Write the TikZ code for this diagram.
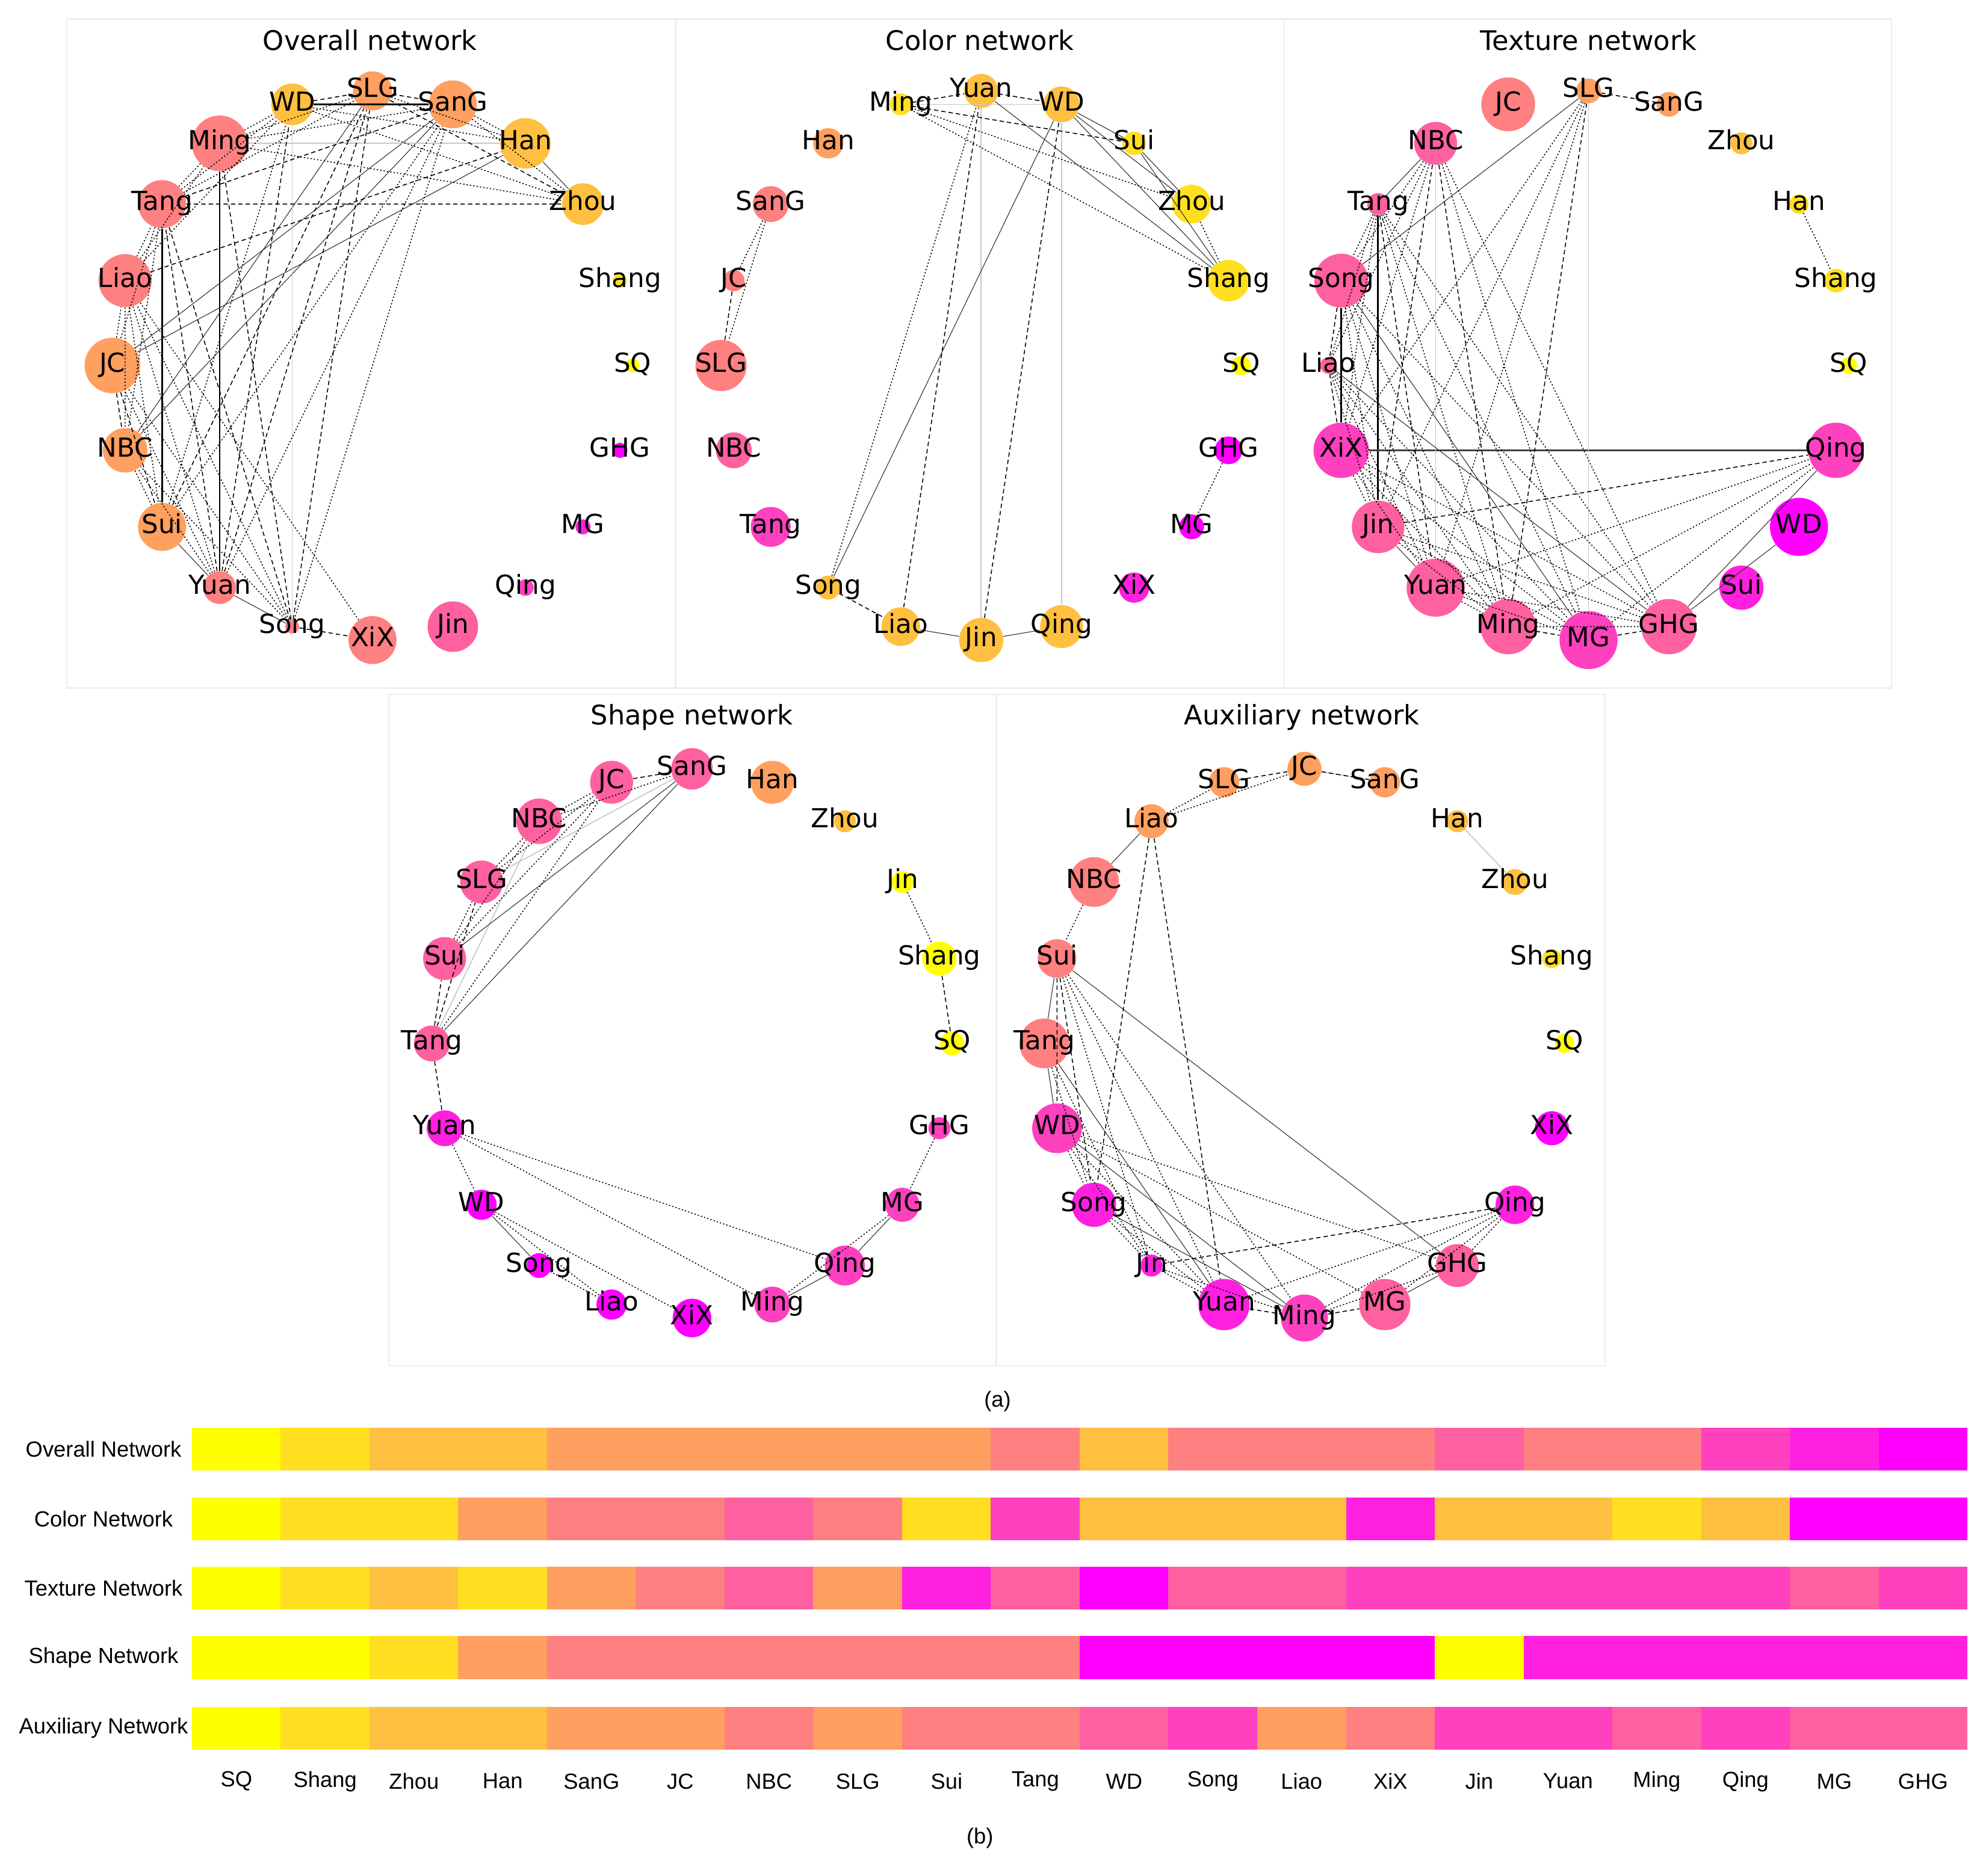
\documentclass[tikz,border=0pt]{standalone}
\usepackage{fontspec}
\newfontfamily\dvsans{DejaVu Sans}
\newfontfamily\lsans{Liberation Sans}

% spring colour levels, from yellow to magenta
\definecolor{sp100}{RGB}{255,255,0}
\definecolor{sp88}{RGB}{255,223,32}
\definecolor{sp75}{RGB}{255,191,64}
\definecolor{sp62}{RGB}{255,159,96}
\definecolor{sp50}{RGB}{255,128,128}
\definecolor{sp38}{RGB}{255,96,159}
\definecolor{sp25}{RGB}{255,64,191}
\definecolor{sp12}{RGB}{255,32,223}
\definecolor{sp0}{RGB}{255,0,255}
\definecolor{frmcol}{RGB}{234,239,244}

\tikzset{
  nd/.style 2 args={circle,inner sep=0pt,draw=none,fill=#1,minimum size=#2*1.5pt},
  lb/.style={inner sep=0pt,font=\dvsans\fontsize{15.6}{18}\selectfont,text height=11.2pt,text depth=3.6pt},
  ttl/.style={inner sep=0pt,font=\dvsans\fontsize{16}{19}\selectfont},
  bl/.style={inner sep=0pt,font=\lsans\fontsize{13}{15}\selectfont},
  frm/.style={draw=frmcol,line width=0.8pt},
  edot/.style={line width=0.55pt,dash pattern=on 0.8pt off 1.2pt},
  edash/.style={line width=0.55pt,dash pattern=on 2.6pt off 1.8pt},
  eline/.style={line width=0.4pt,black!80},
  ebold/.style={line width=1pt},
  egray/.style={line width=0.6pt,black!22},
}

\begin{document}
\begin{tikzpicture}[x=0.75pt,y=0.75pt,yscale=-1,xscale=1]
\useasboundingbox (0,0) rectangle (1568,1486);

% Panel frames
\draw[frm] (53,15) rectangle (535,545);
\draw[frm] (535,15) rectangle (1017,545);
\draw[frm] (1017,15) rectangle (1498,545);
\draw[frm] (308,550) rectangle (789,1082);
\draw[frm] (789,550) rectangle (1271,1082);

% Titles
\node[ttl] (o-title) at (293,32) {Overall network};
\node[ttl] (c-title) at (776,32) {Color network};
\node[ttl] (t-title) at (1258,32) {Texture network};
\node[ttl] (s-title) at (548,568) {Shape network};
\node[ttl] (a-title) at (1031,568) {Auxiliary network};

%%%%%%%% Overall network
\begin{scope}[shift={(295,289.5)}]
\node[nd={sp62}{15.5}] (o-SLG) at (-90:206 and 217.5) {};
\node[nd={sp62}{19}] (o-SanG) at (-72:206 and 217.5) {};
\node[nd={sp75}{20}] (o-Han) at (-54:206 and 217.5) {};
\node[nd={sp75}{16.5}] (o-Zhou) at (-36:206 and 217.5) {};
\node[nd={sp88}{5.5}] (o-Shang) at (-18:206 and 217.5) {};
\node[nd={sp100}{5.5}] (o-SQ) at (0:206 and 217.5) {};
\node[nd={sp0}{6}] (o-GHG) at (18:206 and 217.5) {};
\node[nd={sp12}{6}] (o-MG) at (36:206 and 217.5) {};
\node[nd={sp25}{6.6}] (o-Qing) at (54:206 and 217.5) {};
\node[nd={sp38}{20}] (o-Jin) at (72:206 and 217.5) {};
\node[nd={sp50}{19}] (o-XiX) at (90:206 and 217.5) {};
\node[nd={sp50}{5.5}] (o-Song) at (108:206 and 217.5) {};
\node[nd={sp50}{13}] (o-Yuan) at (126:206 and 217.5) {};
\node[nd={sp62}{19}] (o-Sui) at (144:206 and 217.5) {};
\node[nd={sp62}{17.6}] (o-NBC) at (162:206 and 217.5) {};
\node[nd={sp62}{22}] (o-JC) at (180:206 and 217.5) {};
\node[nd={sp50}{21}] (o-Liao) at (198:206 and 217.5) {};
\node[nd={sp50}{19}] (o-Tang) at (216:206 and 217.5) {};
\node[nd={sp50}{22}] (o-Ming) at (234:206 and 217.5) {};
\node[nd={sp75}{16.5}] (o-WD) at (252:206 and 217.5) {};
\end{scope}

\draw[ebold] (o-Ming) -- (o-Yuan) (o-Tang) -- (o-Sui) (o-WD) -- (o-SanG);
\draw[eline] (o-Han) -- (o-Zhou) (o-JC) -- (o-SanG) (o-NBC) -- (o-SLG) (o-NBC) -- (o-SanG)
  (o-Sui) -- (o-Yuan) (o-Song) -- (o-Yuan) (o-JC) -- (o-Han);
\draw[egray] (o-Ming) -- (o-Han) (o-WD) -- (o-Song);
\draw[edash] (o-WD) -- (o-SLG) (o-SLG) -- (o-SanG) (o-SLG) -- (o-Zhou) (o-Tang) -- (o-Zhou)
  (o-Liao) -- (o-Han) (o-JC) -- (o-NBC) (o-Yuan) -- (o-SLG) (o-Yuan) -- (o-WD)
  (o-Song) -- (o-SLG) (o-Song) -- (o-Ming) (o-Song) -- (o-XiX) (o-Tang) -- (o-SanG)
  (o-Sui) -- (o-SLG) (o-Tang) -- (o-Song) (o-JC) -- (o-Sui) (o-Yuan) -- (o-Tang);
\draw[edot] (o-SLG) -- (o-Han) (o-SanG) -- (o-Han) (o-SanG) -- (o-Zhou) (o-WD) -- (o-Zhou)
  (o-WD) -- (o-Han) (o-Ming) -- (o-WD) (o-Ming) -- (o-SLG) (o-Ming) -- (o-SanG)
  (o-Ming) -- (o-Zhou) (o-Tang) -- (o-WD) (o-Tang) -- (o-SLG) (o-Tang) -- (o-Ming)
  (o-Liao) -- (o-Tang) (o-Liao) -- (o-Ming) (o-Liao) -- (o-WD) (o-Liao) -- (o-NBC)
  (o-Liao) -- (o-Sui) (o-JC) -- (o-Liao) (o-Tang) -- (o-NBC) (o-Tang) -- (o-JC)
  (o-Sui) -- (o-SanG) (o-Sui) -- (o-WD) (o-NBC) -- (o-Sui) (o-Yuan) -- (o-Liao)
  (o-Yuan) -- (o-NBC) (o-Song) -- (o-Liao) (o-Song) -- (o-NBC) (o-XiX) -- (o-Liao)
  (o-Song) -- (o-SanG) (o-Yuan) -- (o-SanG) (o-Yuan) -- (o-JC) (o-Song) -- (o-JC);

%%%%%%%% Color network
\begin{scope}[shift={(777,289.5)}]
\node[nd={sp75}{13.5}] (c-Yuan) at (-90:206 and 217.5) {};
\node[nd={sp75}{14.2}] (c-WD) at (-72:206 and 217.5) {};
\node[nd={sp88}{9.3}] (c-Sui) at (-54:206 and 217.5) {};
\node[nd={sp88}{15.3}] (c-Zhou) at (-36:206 and 217.5) {};
\node[nd={sp88}{16.4}] (c-Shang) at (-18:206 and 217.5) {};
\node[nd={sp100}{7.6}] (c-SQ) at (0:206 and 217.5) {};
\node[nd={sp0}{11}] (c-GHG) at (18:206 and 217.5) {};
\node[nd={sp0}{9.8}] (c-MG) at (36:206 and 217.5) {};
\node[nd={sp12}{12}] (c-XiX) at (54:206 and 217.5) {};
\node[nd={sp75}{17}] (c-Qing) at (72:206 and 217.5) {};
\node[nd={sp75}{17.5}] (c-Jin) at (90:206 and 217.5) {};
\node[nd={sp75}{15.3}] (c-Liao) at (108:206 and 217.5) {};
\node[nd={sp75}{9.5}] (c-Song) at (126:206 and 217.5) {};
\node[nd={sp25}{15.8}] (c-Tang) at (144:206 and 217.5) {};
\node[nd={sp38}{14.2}] (c-NBC) at (162:206 and 217.5) {};
\node[nd={sp50}{20.3}] (c-SLG) at (180:206 and 217.5) {};
\node[nd={sp50}{8.5}] (c-JC) at (198:206 and 217.5) {};
\node[nd={sp50}{14.2}] (c-SanG) at (216:206 and 217.5) {};
\node[nd={sp62}{12}] (c-Han) at (234:206 and 217.5) {};
\node[nd={sp88}{8.7}] (c-Ming) at (252:206 and 217.5) {};
\end{scope}

\draw[egray] (c-Ming) -- (c-WD) (c-Jin) -- (c-Yuan) (c-Qing) -- (c-WD);
\draw[eline] (c-WD) -- (c-Sui) (c-WD) -- (c-Zhou) (c-WD) -- (c-Shang) (c-Sui) -- (c-Zhou)
  (c-Sui) -- (c-Shang) (c-Yuan) -- (c-Shang) (c-Song) -- (c-WD) (c-Jin) -- (c-Qing)
  (c-Liao) -- (c-Jin);
\draw[edash] (c-Ming) -- (c-Yuan) (c-Yuan) -- (c-WD) (c-Ming) -- (c-Sui) (c-Liao) -- (c-Yuan)
  (c-Jin) -- (c-WD) (c-Song) -- (c-Liao) (c-SLG) -- (c-JC);
\draw[edot] (c-Ming) -- (c-Zhou) (c-Ming) -- (c-Shang) (c-Zhou) -- (c-Shang) (c-SanG) -- (c-JC)
  (c-SanG) -- (c-SLG) (c-Song) -- (c-Yuan) (c-GHG) -- (c-MG);

%%%%%%%% Texture network
\begin{scope}[shift={(1258,289.5)}]
\node[nd={sp62}{9.8}] (t-SLG) at (-90:206 and 217.5) {};
\node[nd={sp62}{9.8}] (t-SanG) at (-72:206 and 217.5) {};
\node[nd={sp75}{8.7}] (t-Zhou) at (-54:206 and 217.5) {};
\node[nd={sp88}{7.6}] (t-Han) at (-36:206 and 217.5) {};
\node[nd={sp88}{9.3}] (t-Shang) at (-18:206 and 217.5) {};
\node[nd={sp100}{6.6}] (t-SQ) at (0:206 and 217.5) {};
\node[nd={sp25}{21.9}] (t-Qing) at (18:206 and 217.5) {};
\node[nd={sp0}{23}] (t-WD) at (36:206 and 217.5) {};
\node[nd={sp12}{17.5}] (t-Sui) at (54:206 and 217.5) {};
\node[nd={sp38}{21.9}] (t-GHG) at (72:206 and 217.5) {};
\node[nd={sp25}{23}] (t-MG) at (90:206 and 217.5) {};
\node[nd={sp38}{21.9}] (t-Ming) at (108:206 and 217.5) {};
\node[nd={sp38}{23}] (t-Yuan) at (126:206 and 217.5) {};
\node[nd={sp38}{20.8}] (t-Jin) at (144:206 and 217.5) {};
\node[nd={sp25}{21.9}] (t-XiX) at (162:206 and 217.5) {};
\node[nd={sp38}{6.6}] (t-Liao) at (180:206 and 217.5) {};
\node[nd={sp38}{21.3}] (t-Song) at (198:206 and 217.5) {};
\node[nd={sp38}{8.7}] (t-Tang) at (216:206 and 217.5) {};
\node[nd={sp38}{17}] (t-NBC) at (234:206 and 217.5) {};
\node[nd={sp50}{21.3}] (t-JC) at (252:206 and 217.5) {};
\end{scope}

\draw[ebold] (t-Tang) -- (t-Jin) (t-Song) -- (t-XiX);
\draw[line width=0.8pt,black!75] (t-XiX) -- (t-Qing);
\draw[egray] (t-SLG) -- (t-MG) (t-NBC) -- (t-Yuan);
\draw[eline] (t-SLG) -- (t-Song) (t-NBC) -- (t-Tang) (t-Song) -- (t-MG)
  (t-Liao) -- (t-GHG) (t-Jin) -- (t-Yuan) (t-GHG) -- (t-Qing) (t-GHG) -- (t-WD);
\draw[edash] (t-SLG) -- (t-SanG) (t-SLG) -- (t-Ming) (t-NBC) -- (t-Jin) (t-NBC) -- (t-Ming)
  (t-Tang) -- (t-Yuan) (t-Song) -- (t-Liao) (t-Liao) -- (t-XiX) (t-Jin) -- (t-Qing)
  (t-Ming) -- (t-MG) (t-MG) -- (t-GHG);
\draw[edot] (t-Han) -- (t-Shang) (t-SLG) -- (t-XiX) (t-SLG) -- (t-Jin) (t-SLG) -- (t-Yuan)
  (t-NBC) -- (t-Song) (t-NBC) -- (t-Liao) (t-NBC) -- (t-XiX) (t-NBC) -- (t-MG)
  (t-NBC) -- (t-GHG) (t-Tang) -- (t-Song) (t-Tang) -- (t-Liao) (t-Tang) -- (t-XiX)
  (t-Tang) -- (t-Ming) (t-Tang) -- (t-MG) (t-Tang) -- (t-GHG) (t-Song) -- (t-Jin)
  (t-Song) -- (t-Yuan) (t-Song) -- (t-Ming) (t-Song) -- (t-GHG) (t-Liao) -- (t-Jin)
  (t-Liao) -- (t-Yuan) (t-Liao) -- (t-Ming) (t-Liao) -- (t-MG) (t-XiX) -- (t-Jin)
  (t-XiX) -- (t-Yuan) (t-XiX) -- (t-Ming) (t-XiX) -- (t-MG) (t-XiX) -- (t-GHG)
  (t-Jin) -- (t-Ming) (t-Jin) -- (t-MG) (t-Jin) -- (t-GHG) (t-Yuan) -- (t-Ming)
  (t-Yuan) -- (t-MG) (t-Yuan) -- (t-GHG) (t-Yuan) -- (t-Qing) (t-Ming) -- (t-GHG)
  (t-Ming) -- (t-Qing) (t-MG) -- (t-Qing);

%%%%%%%% Shape network
\begin{scope}[shift={(548,826.5)}]
\node[nd={sp38}{16.4}] (s-SanG) at (-90:206 and 217.5) {};
\node[nd={sp62}{17}] (s-Han) at (-72:206 and 217.5) {};
\node[nd={sp75}{8.7}] (s-Zhou) at (-54:206 and 217.5) {};
\node[nd={sp100}{8.7}] (s-Jin) at (-36:206 and 217.5) {};
\node[nd={sp100}{13.5}] (s-Shang) at (-18:206 and 217.5) {};
\node[nd={sp100}{9.5}] (s-SQ) at (0:206 and 217.5) {};
\node[nd={sp25}{8.7}] (s-GHG) at (18:206 and 217.5) {};
\node[nd={sp25}{13.5}] (s-MG) at (36:206 and 217.5) {};
\node[nd={sp25}{15.8}] (s-Qing) at (54:206 and 217.5) {};
\node[nd={sp25}{14.2}] (s-Ming) at (72:206 and 217.5) {};
\node[nd={sp0}{15.3}] (s-XiX) at (90:206 and 217.5) {};
\node[nd={sp0}{12}] (s-Liao) at (108:206 and 217.5) {};
\node[nd={sp0}{9.8}] (s-Song) at (126:206 and 217.5) {};
\node[nd={sp0}{12}] (s-WD) at (144:206 and 217.5) {};
\node[nd={sp12}{14.2}] (s-Yuan) at (162:206 and 217.5) {};
\node[nd={sp38}{14.2}] (s-Tang) at (180:206 and 217.5) {};
\node[nd={sp38}{17}] (s-Sui) at (198:206 and 217.5) {};
\node[nd={sp38}{17}] (s-SLG) at (216:206 and 217.5) {};
\node[nd={sp38}{18}] (s-NBC) at (234:206 and 217.5) {};
\node[nd={sp38}{17}] (s-JC) at (252:206 and 217.5) {};
\end{scope}

\draw[egray] (s-SLG) -- (s-SanG) (s-Tang) -- (s-NBC);
\draw[eline] (s-Sui) -- (s-SanG) (s-Tang) -- (s-SanG) (s-MG) -- (s-Qing) (s-Qing) -- (s-Ming)
  (s-WD) -- (s-Song);
\draw[edash] (s-JC) -- (s-SanG) (s-Tang) -- (s-Sui) (s-Tang) -- (s-SLG) (s-Tang) -- (s-Yuan)
  (s-Shang) -- (s-SQ);
\draw[edot] (s-NBC) -- (s-JC) (s-NBC) -- (s-SanG) (s-SLG) -- (s-JC) (s-SLG) -- (s-NBC)
  (s-Sui) -- (s-SLG) (s-Sui) -- (s-NBC) (s-Sui) -- (s-JC) (s-Tang) -- (s-JC)
  (s-Jin) -- (s-Shang) (s-GHG) -- (s-MG) (s-MG) -- (s-Ming) (s-Yuan) -- (s-Qing)
  (s-Yuan) -- (s-Ming) (s-Yuan) -- (s-WD) (s-WD) -- (s-Liao) (s-WD) -- (s-XiX)
  (s-Song) -- (s-Liao);

%%%%%%%% Auxiliary network
\begin{scope}[shift={(1033,826.5)}]
\node[nd={sp62}{13.5}] (a-JC) at (-90:206 and 217.5) {};
\node[nd={sp62}{12}] (a-SanG) at (-72:206 and 217.5) {};
\node[nd={sp75}{8.7}] (a-Han) at (-54:206 and 217.5) {};
\node[nd={sp75}{10.2}] (a-Zhou) at (-36:206 and 217.5) {};
\node[nd={sp88}{7.6}] (a-Shang) at (-18:206 and 217.5) {};
\node[nd={sp100}{7.6}] (a-SQ) at (0:206 and 217.5) {};
\node[nd={sp0}{13.5}] (a-XiX) at (18:206 and 217.5) {};
\node[nd={sp12}{15.3}] (a-Qing) at (36:206 and 217.5) {};
\node[nd={sp38}{17}] (a-GHG) at (54:206 and 217.5) {};
\node[nd={sp38}{20.3}] (a-MG) at (72:206 and 217.5) {};
\node[nd={sp25}{18.6}] (a-Ming) at (90:206 and 217.5) {};
\node[nd={sp12}{20.3}] (a-Yuan) at (108:206 and 217.5) {};
\node[nd={sp12}{8.7}] (a-Jin) at (126:206 and 217.5) {};
\node[nd={sp12}{17.5}] (a-Song) at (144:206 and 217.5) {};
\node[nd={sp25}{19.7}] (a-WD) at (162:206 and 217.5) {};
\node[nd={sp50}{19.7}] (a-Tang) at (180:206 and 217.5) {};
\node[nd={sp50}{15.3}] (a-Sui) at (198:206 and 217.5) {};
\node[nd={sp50}{19.7}] (a-NBC) at (216:206 and 217.5) {};
\node[nd={sp62}{13.5}] (a-Liao) at (234:206 and 217.5) {};
\node[nd={sp62}{12}] (a-SLG) at (252:206 and 217.5) {};
\end{scope}

\draw[egray] (a-Han) -- (a-Zhou) (a-JC) -- (a-SanG);
\draw[eline] (a-NBC) -- (a-Liao) (a-Sui) -- (a-Tang) (a-Tang) -- (a-WD) (a-Sui) -- (a-GHG)
  (a-Tang) -- (a-Yuan) (a-WD) -- (a-Ming) (a-Song) -- (a-Ming) (a-MG) -- (a-GHG);
\draw[edash] (a-SLG) -- (a-JC) (a-JC) -- (a-SanG) (a-Liao) -- (a-Song) (a-Liao) -- (a-Yuan)
  (a-Sui) -- (a-WD) (a-Sui) -- (a-Song) (a-Jin) -- (a-Qing) (a-Yuan) -- (a-Ming)
  (a-Ming) -- (a-MG);
\draw[edot] (a-Liao) -- (a-SLG) (a-Liao) -- (a-JC) (a-NBC) -- (a-Sui) (a-Sui) -- (a-Jin)
  (a-Sui) -- (a-Yuan) (a-Sui) -- (a-Ming) (a-Tang) -- (a-Song) (a-Tang) -- (a-Jin)
  (a-WD) -- (a-Song) (a-WD) -- (a-Jin) (a-WD) -- (a-Yuan) (a-WD) -- (a-MG)
  (a-WD) -- (a-GHG) (a-Song) -- (a-Jin) (a-Song) -- (a-Yuan) (a-Jin) -- (a-Yuan)
  (a-Jin) -- (a-Ming) (a-Yuan) -- (a-Qing) (a-Ming) -- (a-GHG) (a-Ming) -- (a-Qing)
  (a-MG) -- (a-Qing) (a-GHG) -- (a-Qing);

% Node labels
\node[lb] (o-SLGt) at (o-SLG) {SLG};
\node[lb] (o-SanGt) at (o-SanG) {SanG};
\node[lb] (o-Hant) at (o-Han) {Han};
\node[lb] (o-Zhout) at (o-Zhou) {Zhou};
\node[lb] (o-Shangt) at (o-Shang) {Shang};
\node[lb] (o-SQt) at (o-SQ) {SQ};
\node[lb] (o-GHGt) at (o-GHG) {GHG};
\node[lb] (o-MGt) at (o-MG) {MG};
\node[lb] (o-Qingt) at (o-Qing) {Qing};
\node[lb] (o-Jint) at (o-Jin) {Jin};
\node[lb] (o-XiXt) at (o-XiX) {XiX};
\node[lb] (o-Songt) at (o-Song) {Song};
\node[lb] (o-Yuant) at (o-Yuan) {Yuan};
\node[lb] (o-Suit) at (o-Sui) {Sui};
\node[lb] (o-NBCt) at (o-NBC) {NBC};
\node[lb] (o-JCt) at (o-JC) {JC};
\node[lb] (o-Liaot) at (o-Liao) {Liao};
\node[lb] (o-Tangt) at (o-Tang) {Tang};
\node[lb] (o-Mingt) at (o-Ming) {Ming};
\node[lb] (o-WDt) at (o-WD) {WD};

\node[lb] (c-Yuant) at (c-Yuan) {Yuan};
\node[lb] (c-WDt) at (c-WD) {WD};
\node[lb] (c-Suit) at (c-Sui) {Sui};
\node[lb] (c-Zhout) at (c-Zhou) {Zhou};
\node[lb] (c-Shangt) at (c-Shang) {Shang};
\node[lb] (c-SQt) at (c-SQ) {SQ};
\node[lb] (c-GHGt) at (c-GHG) {GHG};
\node[lb] (c-MGt) at (c-MG) {MG};
\node[lb] (c-XiXt) at (c-XiX) {XiX};
\node[lb] (c-Qingt) at (c-Qing) {Qing};
\node[lb] (c-Jint) at (c-Jin) {Jin};
\node[lb] (c-Liaot) at (c-Liao) {Liao};
\node[lb] (c-Songt) at (c-Song) {Song};
\node[lb] (c-Tangt) at (c-Tang) {Tang};
\node[lb] (c-NBCt) at (c-NBC) {NBC};
\node[lb] (c-SLGt) at (c-SLG) {SLG};
\node[lb] (c-JCt) at (c-JC) {JC};
\node[lb] (c-SanGt) at (c-SanG) {SanG};
\node[lb] (c-Hant) at (c-Han) {Han};
\node[lb] (c-Mingt) at (c-Ming) {Ming};

\node[lb] (t-SLGt) at (t-SLG) {SLG};
\node[lb] (t-SanGt) at (t-SanG) {SanG};
\node[lb] (t-Zhout) at (t-Zhou) {Zhou};
\node[lb] (t-Hant) at (t-Han) {Han};
\node[lb] (t-Shangt) at (t-Shang) {Shang};
\node[lb] (t-SQt) at (t-SQ) {SQ};
\node[lb] (t-Qingt) at (t-Qing) {Qing};
\node[lb] (t-WDt) at (t-WD) {WD};
\node[lb] (t-Suit) at (t-Sui) {Sui};
\node[lb] (t-GHGt) at (t-GHG) {GHG};
\node[lb] (t-MGt) at (t-MG) {MG};
\node[lb] (t-Mingt) at (t-Ming) {Ming};
\node[lb] (t-Yuant) at (t-Yuan) {Yuan};
\node[lb] (t-Jint) at (t-Jin) {Jin};
\node[lb] (t-XiXt) at (t-XiX) {XiX};
\node[lb] (t-Liaot) at (t-Liao) {Liao};
\node[lb] (t-Songt) at (t-Song) {Song};
\node[lb] (t-Tangt) at (t-Tang) {Tang};
\node[lb] (t-NBCt) at (t-NBC) {NBC};
\node[lb] (t-JCt) at (t-JC) {JC};

\node[lb] (s-SanGt) at (s-SanG) {SanG};
\node[lb] (s-Hant) at (s-Han) {Han};
\node[lb] (s-Zhout) at (s-Zhou) {Zhou};
\node[lb] (s-Jint) at (s-Jin) {Jin};
\node[lb] (s-Shangt) at (s-Shang) {Shang};
\node[lb] (s-SQt) at (s-SQ) {SQ};
\node[lb] (s-GHGt) at (s-GHG) {GHG};
\node[lb] (s-MGt) at (s-MG) {MG};
\node[lb] (s-Qingt) at (s-Qing) {Qing};
\node[lb] (s-Mingt) at (s-Ming) {Ming};
\node[lb] (s-XiXt) at (s-XiX) {XiX};
\node[lb] (s-Liaot) at (s-Liao) {Liao};
\node[lb] (s-Songt) at (s-Song) {Song};
\node[lb] (s-WDt) at (s-WD) {WD};
\node[lb] (s-Yuant) at (s-Yuan) {Yuan};
\node[lb] (s-Tangt) at (s-Tang) {Tang};
\node[lb] (s-Suit) at (s-Sui) {Sui};
\node[lb] (s-SLGt) at (s-SLG) {SLG};
\node[lb] (s-NBCt) at (s-NBC) {NBC};
\node[lb] (s-JCt) at (s-JC) {JC};

\node[lb] (a-JCt) at (a-JC) {JC};
\node[lb] (a-SanGt) at (a-SanG) {SanG};
\node[lb] (a-Hant) at (a-Han) {Han};
\node[lb] (a-Zhout) at (a-Zhou) {Zhou};
\node[lb] (a-Shangt) at (a-Shang) {Shang};
\node[lb] (a-SQt) at (a-SQ) {SQ};
\node[lb] (a-XiXt) at (a-XiX) {XiX};
\node[lb] (a-Qingt) at (a-Qing) {Qing};
\node[lb] (a-GHGt) at (a-GHG) {GHG};
\node[lb] (a-MGt) at (a-MG) {MG};
\node[lb] (a-Mingt) at (a-Ming) {Ming};
\node[lb] (a-Yuant) at (a-Yuan) {Yuan};
\node[lb] (a-Jint) at (a-Jin) {Jin};
\node[lb] (a-Songt) at (a-Song) {Song};
\node[lb] (a-WDt) at (a-WD) {WD};
\node[lb] (a-Tangt) at (a-Tang) {Tang};
\node[lb] (a-Suit) at (a-Sui) {Sui};
\node[lb] (a-NBCt) at (a-NBC) {NBC};
\node[lb] (a-Liaot) at (a-Liao) {Liao};
\node[lb] (a-SLGt) at (a-SLG) {SLG};

% Caption (a)
\node[bl] (cap-a) at (790,1110) {(a)};

%%%%%%%% Strips (b)
% Overall
\fill[sp100] (152,1131) rectangle (222.3,1165);
\fill[sp88] (222.3,1131) rectangle (292.6,1165);
\fill[sp75] (292.6,1131) rectangle (433.2,1165);
\fill[sp62] (433.2,1131) rectangle (784.7,1165);
\fill[sp50] (784.7,1131) rectangle (855,1165);
\fill[sp75] (855,1131) rectangle (925.3,1165);
\fill[sp50] (925.3,1131) rectangle (1136.2,1165);
\fill[sp38] (1136.2,1131) rectangle (1206.5,1165);
\fill[sp50] (1206.5,1131) rectangle (1347.1,1165);
\fill[sp25] (1347.1,1131) rectangle (1417.4,1165);
\fill[sp12] (1417.4,1131) rectangle (1487.7,1165);
\fill[sp0] (1487.7,1131) rectangle (1558,1165);
% Color
\fill[sp100] (152,1186) rectangle (222.3,1220);
\fill[sp88] (222.3,1186) rectangle (362.9,1220);
\fill[sp62] (362.9,1186) rectangle (433.2,1220);
\fill[sp50] (433.2,1186) rectangle (573.8,1220);
\fill[sp38] (573.8,1186) rectangle (644.1,1220);
\fill[sp50] (644.1,1186) rectangle (714.4,1220);
\fill[sp88] (714.4,1186) rectangle (784.7,1220);
\fill[sp25] (784.7,1186) rectangle (855,1220);
\fill[sp75] (855,1186) rectangle (1065.9,1220);
\fill[sp12] (1065.9,1186) rectangle (1136.2,1220);
\fill[sp75] (1136.2,1186) rectangle (1276.8,1220);
\fill[sp88] (1276.8,1186) rectangle (1347.1,1220);
\fill[sp75] (1347.1,1186) rectangle (1417.4,1220);
\fill[sp0] (1417.4,1186) rectangle (1558,1220);
% Texture
\fill[sp100] (152,1241) rectangle (222.3,1275);
\fill[sp88] (222.3,1241) rectangle (292.6,1275);
\fill[sp75] (292.6,1241) rectangle (362.9,1275);
\fill[sp88] (362.9,1241) rectangle (433.2,1275);
\fill[sp62] (433.2,1241) rectangle (503.5,1275);
\fill[sp50] (503.5,1241) rectangle (573.8,1275);
\fill[sp38] (573.8,1241) rectangle (644.1,1275);
\fill[sp62] (644.1,1241) rectangle (714.4,1275);
\fill[sp12] (714.4,1241) rectangle (784.7,1275);
\fill[sp38] (784.7,1241) rectangle (855,1275);
\fill[sp0] (855,1241) rectangle (925.3,1275);
\fill[sp38] (925.3,1241) rectangle (1065.9,1275);
\fill[sp25] (1065.9,1241) rectangle (1417.4,1275);
\fill[sp38] (1417.4,1241) rectangle (1487.7,1275);
\fill[sp25] (1487.7,1241) rectangle (1558,1275);
% Shape
\fill[sp100] (152,1296) rectangle (292.6,1330);
\fill[sp88] (292.6,1296) rectangle (362.9,1330);
\fill[sp62] (362.9,1296) rectangle (433.2,1330);
\fill[sp50] (433.2,1296) rectangle (855,1330);
\fill[sp0] (855,1296) rectangle (1136.2,1330);
\fill[sp100] (1136.2,1296) rectangle (1206.5,1330);
\fill[sp12] (1206.5,1296) rectangle (1558,1330);
% Auxiliary
\fill[sp100] (152,1352) rectangle (222.3,1386);
\fill[sp88] (222.3,1352) rectangle (292.6,1386);
\fill[sp75] (292.6,1352) rectangle (433.2,1386);
\fill[sp62] (433.2,1352) rectangle (573.8,1386);
\fill[sp50] (573.8,1352) rectangle (644.1,1386);
\fill[sp62] (644.1,1352) rectangle (714.4,1386);
\fill[sp50] (714.4,1352) rectangle (855,1386);
\fill[sp38] (855,1352) rectangle (925.3,1386);
\fill[sp25] (925.3,1352) rectangle (995.6,1386);
\fill[sp62] (995.6,1352) rectangle (1065.9,1386);
\fill[sp50] (1065.9,1352) rectangle (1136.2,1386);
\fill[sp25] (1136.2,1352) rectangle (1276.8,1386);
\fill[sp38] (1276.8,1352) rectangle (1347.1,1386);
\fill[sp25] (1347.1,1352) rectangle (1417.4,1386);
\fill[sp38] (1417.4,1352) rectangle (1558,1386);

% Row labels
\node[bl] (r-ov) at (82,1148) {Overall Network};
\node[bl] (r-co) at (82,1203) {Color Network};
\node[bl] (r-te) at (82,1258) {Texture Network};
\node[bl] (r-sh) at (82,1313) {Shape Network};
\node[bl] (r-au) at (82,1369) {Auxiliary Network};

% Column labels
\node[bl] (k-SQ) at (187.2,1411) {SQ};
\node[bl] (k-Shang) at (257.5,1411) {Shang};
\node[bl] (k-Zhou) at (327.8,1411) {Zhou};
\node[bl] (k-Han) at (398.1,1411) {Han};
\node[bl] (k-SanG) at (468.4,1411) {SanG};
\node[bl] (k-JC) at (538.7,1411) {JC};
\node[bl] (k-NBC) at (609,1411) {NBC};
\node[bl] (k-SLG) at (679.3,1411) {SLG};
\node[bl] (k-Sui) at (749.6,1411) {Sui};
\node[bl] (k-Tang) at (819.9,1411) {Tang};
\node[bl] (k-WD) at (890.2,1411) {WD};
\node[bl] (k-Song) at (960.5,1411) {Song};
\node[bl] (k-Liao) at (1030.8,1411) {Liao};
\node[bl] (k-XiX) at (1101.1,1411) {XiX};
\node[bl] (k-Jin) at (1171.4,1411) {Jin};
\node[bl] (k-Yuan) at (1241.7,1411) {Yuan};
\node[bl] (k-Ming) at (1312,1411) {Ming};
\node[bl] (k-Qing) at (1382.3,1411) {Qing};
\node[bl] (k-MG) at (1452.6,1411) {MG};
\node[bl] (k-GHG) at (1522.9,1411) {GHG};

% Caption (b)
\node[bl] (cap-b) at (776,1456) {(b)};

\end{tikzpicture}
\end{document}
